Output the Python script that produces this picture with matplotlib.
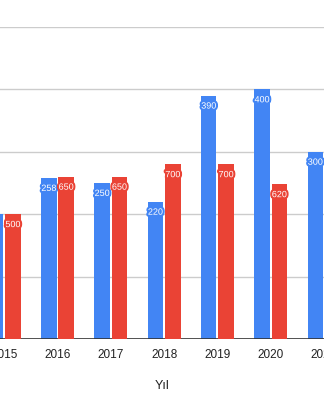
import numpy as np
import matplotlib.pyplot as plt
import matplotlib.patheffects as pe

years = ['2015', '2016', '2017', '2018', '2019', '2020', '2021']
blue_vals = [200, 258, 250, 220, 390, 400, 300]
red_vals = [500, 650, 650, 700, 700, 620, 600]  # last one is off-screen, guessed

blue = '#4285F4'
red = '#EA4335'

plt.rcParams['font.family'] = ['Liberation Sans', 'DejaVu Sans']

fig = plt.figure(figsize=(3.24, 4.0), dpi=100)
ax = fig.add_axes([0, 61 / 400, 1, 312 / 400])
ax2 = ax.twinx()

x = np.arange(len(years))
w = 0.29
off = 0.163

ax.bar(x - off, blue_vals, w, color=blue, zorder=3)
ax2.bar(x + off, red_vals, w, color=red, zorder=3)

ax.set_ylim(0, 500)
ax2.set_ylim(0, 1250)
ax.set_xlim(-0.079, 5.949)

ax.set_yticks([100, 200, 300, 400, 500])
ax.grid(axis='y', color='#cccccc', linewidth=1, zorder=0)
ax.tick_params(axis='y', left=False, labelleft=False)
ax2.set_yticks([])
ax.set_xticks(x)
ax.set_xticklabels(years, fontsize=8.5, color='#222222')
ax.tick_params(axis='x', length=0, pad=7)
ax.set_xlabel('Yıl', fontsize=9, color='#222222', labelpad=14)

for a in (ax, ax2):
    for s in ('top', 'left', 'right', 'bottom'):
        a.spines[s].set_visible(False)
ax.axhline(0, color='#333333', linewidth=1.2, zorder=4)

def label(axis, xs, vals, color):
    for xi, v in zip(xs, vals):
        axis.annotate(str(v), (xi, v), xytext=(0, -7.5), textcoords='offset points',
                      ha='center', va='center', fontsize=6.5, color='white', zorder=5,
                      path_effects=[pe.withStroke(linewidth=3, foreground=color)])

label(ax, x - off, blue_vals, blue)
label(ax2, x + off, red_vals, red)

fig.savefig('out.png', dpi=100)
